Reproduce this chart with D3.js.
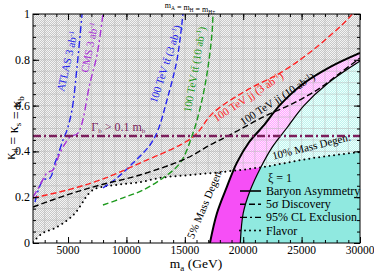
<!DOCTYPE html>
<html>
<head>
<meta charset="utf-8">
<style>
  body { margin: 0; background: #fff; }
  svg { display: block; font-family: 'Liberation Serif', 'DejaVu Serif', serif; }
</style>
</head>
<body>
<svg width="374" height="273"></svg>
<script src="https://cdn.jsdelivr.net/npm/d3@7"></script>
<script>
// ---- data: [m_a (GeV), kappa] ----
let flavor = [[2000,0.004],[2850,0.044],[3700,0.061],[4480,0.083],[5170,0.109],[5680,0.135],
  [6110,0.166],[6540,0.201],[7480,0.24],[9020,0.253],[11160,0.266],[12870,0.284],[15440,0.297],
  [18180,0.31],[21700,0.332],[25980,0.371],[30000,0.397]]
let outerCurve = [[17150,0],[17750,0.13],[18600,0.245],[19450,0.35],[20500,0.44],[21700,0.51],
  [23100,0.6],[25000,0.69],[27500,0.77],[30000,0.83]]
let innerCurve = [[19750,0],[20000,0.13],[20600,0.23],[21500,0.33],[22500,0.42],[23700,0.5],
  [25200,0.6],[27300,0.7],[30000,0.795]]
let atlas = [[2170,0.179],[2860,0.275],[3460,0.284],[3880,0.349],[4140,0.384],[4570,0.45],
  [4910,0.493],[5340,0.581],[5770,0.769],[6200,1.0]]
let cms = [[2000,0.2],[2600,0.253],[3200,0.306],[3710,0.319],[4310,0.393],[5170,0.463],
  [5850,0.48],[6880,0.699],[7480,0.821],[7990,1.0]]
let tt3 = [[7990,0.24],[9190,0.284],[10560,0.349],[12020,0.428],[12700,0.493],[13470,0.624],
  [14330,0.8],[14840,1.0]]
let tt10 = [[7990,0.166],[9710,0.197],[11420,0.231],[13130,0.284],[14590,0.349],[15700,0.48],
  [16470,0.624],[16990,0.769],[17330,0.917],[17410,1.0]]
let jj3 = [[2000,0.197],[4910,0.231],[7740,0.275],[11160,0.349],[15700,0.463],[17410,0.568],
  [20330,0.668],[23150,0.742],[25980,0.843],[28890,0.974],[29320,1.0]]
let jj10 = [[2000,0.157],[4910,0.21],[7740,0.253],[11160,0.297],[15190,0.371],[17160,0.428],
  [18870,0.472],[21690,0.55],[24010,0.603],[26320,0.668],[28290,0.742],[30000,0.808]]
let gammaK = 0.467

let xMajor = [5000, 10000, 15000, 20000, 25000, 30000]
let yMajor = [0, 0.2, 0.4, 0.6, 0.8, 1]

let margin = { top: 14, right: 14, bottom: 30, left: 33 }
let width = 374 - margin.left - margin.right
let height = 273 - margin.top - margin.bottom

let svg = d3.select("svg")
let defs = svg.append("defs")

function checker(id, light, dark) {
  let p = defs.append("pattern").attr("id", id).attr("patternUnits", "userSpaceOnUse")
    .attr("width", 2).attr("height", 2)
  p.append("rect").attr("width", 2).attr("height", 2).attr("fill", light)
  p.append("rect").attr("width", 1).attr("height", 1).attr("fill", dark)
  p.append("rect").attr("x", 1).attr("y", 1).attr("width", 1).attr("height", 1).attr("fill", dark)
}
checker("grayPat", "#f4f4f4", "#c8c8c8")
checker("pinkPat", "#ffe4ff", "#ffa8ff")
checker("cyanPat", "#effffd", "#bff4ee")

let x = d3.scaleLinear().domain([2000, 30000]).range([0, width])
let y = d3.scaleLinear().domain([0, 1]).range([height, 0])

let g = svg.append("g").attr("transform", `translate(${margin.left},${margin.top})`)

let line = d3.line().x(d => x(d[0])).y(d => y(d[1])).curve(d3.curveCatmullRom)
let flavorLine = d3.line().x(d => x(d[0])).y(d => y(d[1])).curve(d3.curveMonotoneX)

// clip regions above / below the flavor line
defs.append("clipPath").attr("id", "clipAbove").append("path")
  .attr("d", flavorLine(flavor) + "L" + x(30000) + "," + y(1) + "L" + x(2000) + "," + y(1) + "Z")
defs.append("clipPath").attr("id", "clipBelow").append("path")
  .attr("d", flavorLine(flavor) + "L" + x(30000) + "," + y(0) + "L" + x(2000) + "," + y(0) + "Z")
defs.append("clipPath").attr("id", "clipPlot").append("rect").attr("width", width).attr("height", height)

let bandPath = line(outerCurve) + "L" + line(innerCurve.slice().reverse()).slice(1) + "Z"
let cyanPath = line(innerCurve) + "L" + x(30000) + "," + y(0) + "Z"

g.append("rect").attr("width", width).attr("height", height).attr("fill", "#fff")

let up = g.append("g").attr("clip-path", "url(#clipAbove)")
up.append("rect").attr("width", width).attr("height", height).attr("fill", "url(#grayPat)")
up.append("path").attr("d", bandPath).attr("fill", "url(#pinkPat)")
up.append("path").attr("d", cyanPath).attr("fill", "url(#cyanPat)")

let down = g.append("g").attr("clip-path", "url(#clipBelow)")
down.append("path").attr("d", bandPath).attr("fill", "#f64ff6")
down.append("path").attr("d", cyanPath).attr("fill", "#90e9e0")

// grid lines in the shaded part
let grid = up.append("g").attr("stroke", "#b4b4b4").attr("stroke-width", 0.5)
grid.selectAll(".gx").data(d3.range(3000, 30000, 1000)).join("line")
  .attr("x1", d => x(d)).attr("x2", d => x(d)).attr("y1", 0).attr("y2", height)
grid.selectAll(".gy").data(d3.range(0.05, 1, 0.05)).join("line")
  .attr("y1", d => y(d)).attr("y2", d => y(d)).attr("x1", 0).attr("x2", width)

// curves
let curves = g.append("g").attr("clip-path", "url(#clipPlot)").attr("fill", "none")
curves.append("path").attr("d", line(outerCurve)).attr("stroke", "#000").attr("stroke-width", 2)
curves.append("path").attr("d", line(innerCurve)).attr("stroke", "#000").attr("stroke-width", 1.2)
curves.append("path").attr("d", flavorLine(flavor)).attr("stroke", "#000").attr("stroke-width", 2)
  .attr("stroke-dasharray", "0,5").attr("stroke-linecap", "round")

let series = [
  { data: atlas, color: "#2424ee", dash: "7,3,2,3" },
  { data: cms, color: "#a832d6", dash: "7,3,2,3" },
  { data: tt3, color: "#2424ee", dash: "6,3" },
  { data: tt10, color: "#1e9a1e", dash: "6,3" },
  { data: jj3, color: "#f22", dash: "6,3" },
  { data: jj10, color: "#000", dash: "6,3" }
]
curves.selectAll(".s").data(series).join("path")
  .attr("d", d => line(d.data)).attr("stroke", d => d.color)
  .attr("stroke-width", 1.4).attr("stroke-dasharray", d => d.dash)

curves.append("line").attr("x1", 0).attr("x2", width).attr("y1", y(gammaK)).attr("y2", y(gammaK))
  .attr("stroke", "#7b1f5c").attr("stroke-width", 2.5).attr("stroke-dasharray", "8,3,2,3")

// labels on the plot
function label(m, k, angle, color, parts, size) {
  let t = g.append("text").attr("transform", `translate(${x(m)},${y(k)}) rotate(${angle})`)
    .attr("text-anchor", "middle").attr("fill", color).attr("font-size", size || 11)
  parts.forEach(p => {
    if (p.sup) t.append("tspan").attr("dy", -4).attr("font-size", 7).text(p.sup)
    else if (p.sub) t.append("tspan").attr("dy", 2.5).attr("font-size", 7).text(p.sub)
    else t.append("tspan").attr("dy", p.reset || 0).text(p.t)
  })
}
label(5250, 0.79, -77, "#2424ee", [{ t: "ATLAS 3 ab" }, { sup: "-1" }])
label(7150, 0.85, -78, "#a832d6", [{ t: "CMS 3 ab" }, { sup: "-1" }])
label(13650, 0.777, -72, "#2424ee", [{ t: "100 TeV tt\u0304 (3 ab" }, { sup: "-1" }, { t: ")", reset: 4 }])
label(16150, 0.755, -80, "#1e9a1e", [{ t: "100 TeV tt\u0304 (10 ab" }, { sup: "-1" }, { t: ")", reset: 4 }])
label(20600, 0.624, -33, "#f22", [{ t: "100 TeV jj (3 ab" }, { sup: "-1" }, { t: ")", reset: 4 }])
label(23100, 0.615, -33, "#000", [{ t: "100 TeV jj (10 ab" }, { sup: "-1" }, { t: ")", reset: 4 }])
label(17000, 0.166, -67, "#000", [{ t: "5% Mass Degen." }])
label(25900, 0.406, -14, "#000", [{ t: "10% Mass Degen." }])
label(9300, 0.49, 0, "#7b1f5c", [{ t: "\u0393" }, { sub: "b" }, { t: " > 0.1 m", reset: -2.5 }, { sub: "b" }], 12)

// legend
let lg = svg.append("g").attr("font-size", 12)
lg.append("text").attr("x", 268).attr("y", 182).text("\u03be = 1")
let entries = [["Baryon Asymmetry", null, 1.6], ["5\u03c3 Discovery", "6,3", 1.4],
  ["95% CL Exclusion", "7,3,2,3", 1.4], ["Flavor", "0,5", 2]]
entries.forEach((e, i) => {
  let yy = 195 + i * 13.2
  lg.append("line").attr("x1", 240).attr("x2", 261).attr("y1", yy - 4).attr("y2", yy - 4)
    .attr("stroke", "#000").attr("stroke-width", e[2]).attr("stroke-dasharray", e[1])
    .attr("stroke-linecap", e[1] === "0,5" ? "round" : "butt")
  lg.append("text").attr("x", 266).attr("y", yy).text(e[0])
})

// axes with inward ticks on all sides
function ticks(axis, vals, size) { return axis.tickValues(vals).tickSize(size).tickFormat("") }
let xMinor = d3.range(3000, 30000, 1000)
let yMinor = d3.range(0.05, 1, 0.05)
g.append("g").attr("transform", `translate(0,${height})`).call(ticks(d3.axisBottom(x), xMinor, -3))
g.append("g").attr("transform", `translate(0,${height})`).call(ticks(d3.axisBottom(x), xMajor, -6))
g.append("g").call(ticks(d3.axisTop(x), xMinor, -3))
g.append("g").call(ticks(d3.axisTop(x), xMajor, -6))
g.append("g").call(ticks(d3.axisLeft(y), yMinor, -3))
g.append("g").call(ticks(d3.axisLeft(y), yMajor, -6))
g.append("g").attr("transform", `translate(${width},0)`).call(ticks(d3.axisRight(y), yMinor, -3))
g.append("g").attr("transform", `translate(${width},0)`).call(ticks(d3.axisRight(y), yMajor, -6))
g.selectAll(".domain").remove()
g.append("rect").attr("width", width).attr("height", height).attr("fill", "none").attr("stroke", "#000")

g.selectAll(".xl").data(xMajor).join("text").attr("x", d => x(d)).attr("y", height + 11)
  .attr("text-anchor", "middle").attr("font-size", 11.5).text(d => d)
g.selectAll(".yl").data(yMajor).join("text").attr("x", -3).attr("y", d => y(d) + 4)
  .attr("text-anchor", "end").attr("font-size", 12).text(d => d)

// axis titles
let xt = svg.append("text").attr("x", 196).attr("y", 268).attr("text-anchor", "middle").attr("font-size", 13.5)
xt.append("tspan").text("m")
xt.append("tspan").attr("dy", 3).attr("font-size", 9).text("a")
xt.append("tspan").attr("dy", -3).text(" (GeV)")

let yt = svg.append("text").attr("transform", "translate(15,128) rotate(-90)").attr("text-anchor", "middle").attr("font-size", 14)
;[["\u03ba", "d"], [" = \u03ba", "s"], [" = \u03ba", "b"]].forEach(p => {
  yt.append("tspan").text(p[0])
  yt.append("tspan").attr("dy", 3).attr("font-size", 9).text(p[1])
  yt.append("tspan").attr("dy", -3).text("")
})

let tt = svg.append("text").attr("x", 190).attr("y", 8).attr("text-anchor", "middle").attr("font-size", 8)
;[["m", "A"], [" = m", "H"], [" = m", "H\u00b1"]].forEach(p => {
  tt.append("tspan").text(p[0])
  tt.append("tspan").attr("dy", 2).attr("font-size", 5.5).text(p[1])
  tt.append("tspan").attr("dy", -2).text("")
})
</script>
</body>
</html>
